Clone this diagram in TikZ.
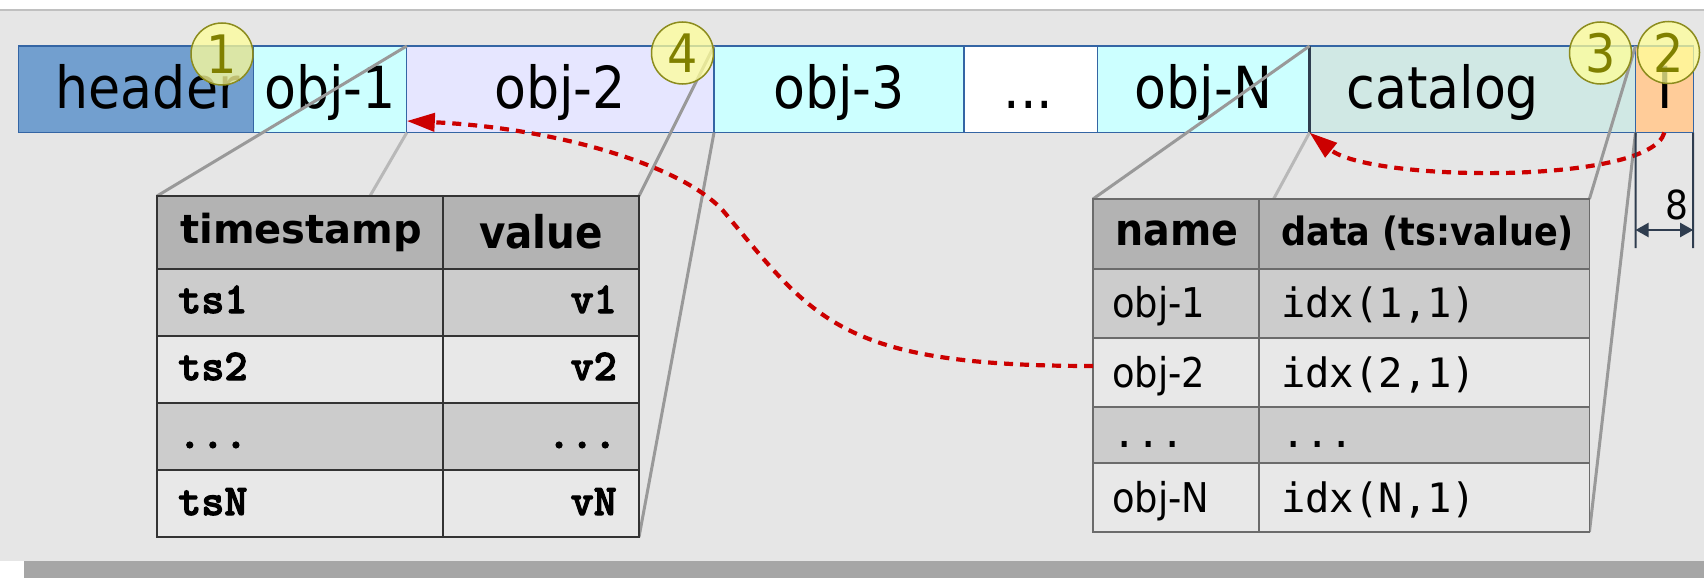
\documentclass[tikz,border=0pt]{standalone}
\usepackage{fontspec}
\usetikzlibrary{arrows.meta}
\newfontfamily\dvc{DejaVu Sans}[FakeStretch=0.9]
\newfontfamily\dvs{DejaVu Sans}
\newfontfamily\dvm{DejaVu Sans Mono}
\newfontfamily\lmo{lmmonolt10-bold}[Extension=.otf,FakeBold=2.5]
\definecolor{bgc}{HTML}{E6E6E6}
\definecolor{topc}{HTML}{C0C0C0}
\definecolor{bandc}{HTML}{A6A6A6}
\definecolor{barblue}{HTML}{3465A4}
\definecolor{hdrc}{HTML}{729FCF}
\definecolor{cyanc}{HTML}{CCFFFF}
\definecolor{lavc}{HTML}{E6E6FF}
\definecolor{catc}{HTML}{D0E8E4}
\definecolor{orc}{HTML}{FFCC99}
\definecolor{thc}{HTML}{B3B3B3}
\definecolor{oddc}{HTML}{CCCCCC}
\definecolor{evenc}{HTML}{E8E8E8}
\definecolor{projd}{HTML}{999999}
\definecolor{projl}{HTML}{B8B8B8}
\definecolor{redc}{HTML}{CC0000}
\definecolor{dimc}{HTML}{2F3D4F}
\definecolor{olivec}{HTML}{808000}
\definecolor{olived}{HTML}{8C8C1E}
\definecolor{yelc}{HTML}{FFFF99}
\definecolor{ltline}{HTML}{333333}
\definecolor{rtline}{HTML}{6B6B6B}
\begin{document}
\begin{tikzpicture}[x=1pt,y=-1pt,
  barbox/.style={draw=barblue,line width=1.2pt,inner sep=0pt,outer sep=0pt,minimum height=86.6pt,anchor=north west},
  bartext/.style={font=\dvc\fontsize{58}{60}\selectfont,anchor=base,inner sep=0pt},
  lcell/.style={draw=ltline,line width=1.5pt,inner sep=0pt,outer sep=0pt,anchor=north west},
  rcell/.style={draw=rtline,line width=1.5pt,inner sep=0pt,outer sep=0pt,anchor=north west},
  projdark/.style={draw=projd,line width=3pt},
  projlight/.style={draw=projl,line width=3pt},
  redarrow/.style={draw=redc,line width=4.2pt,dash pattern=on 9pt off 7pt,-{Triangle[length=28pt,width=18pt]}},
  dimline/.style={draw=dimc,line width=2pt},
  numdot/.style={circle,draw=olived,line width=1.5pt,fill=yelc,fill opacity=0.75,text opacity=1,text=olivec,minimum size=62pt,inner sep=0pt,font=\dvc\fontsize{53}{53}\selectfont},
  thL/.style={font=\dvs\bfseries\fontsize{40}{42}\selectfont,inner sep=0pt},
  thLv/.style={font=\dvc\bfseries\fontsize{45}{47}\selectfont,inner sep=0pt},
  tdL/.style={font=\lmo\fontsize{44}{46}\selectfont,inner sep=0pt},
  thR/.style={font=\dvc\bfseries\fontsize{44}{46}\selectfont,inner sep=0pt},
  thRd/.style={font=\dvc\bfseries\fontsize{39}{41}\selectfont,inner sep=0pt},
  tdR/.style={font=\dvc\fontsize{41}{43}\selectfont,inner sep=0pt},
  tdRm/.style={font=\dvm\fontsize{40.5}{42}\selectfont,inner sep=0pt}
]
\useasboundingbox (0,0) rectangle (1704,578);
% background
\fill[white] (0,0) rectangle (1704,578);
\fill[bgc] (0,10) rectangle (1704,561);
\draw[topc,line width=2pt] (0,10) -- (1704,10);
\fill[bandc] (24,561) rectangle (1704,578);

% the bar
\node[barbox,fill=hdrc,minimum width=234.7pt] (hdr) at (18.5,46) {};
\node[barbox,fill=cyanc,minimum width=153.6pt] (obj1) at (hdr.north east) {};
\node[barbox,fill=lavc,minimum width=307.2pt] (obj2) at (obj1.north east) {};
\node[barbox,fill=cyanc,minimum width=249.9pt] (obj3) at (obj2.north east) {};
\node[barbox,fill=white,minimum width=133.7pt] (odots) at (obj3.north east) {};
\node[barbox,fill=cyanc,minimum width=211.9pt] (objN) at (odots.north east) {};
\node[barbox,fill=catc,minimum width=326pt] (cat) at (objN.north east) {};
\node[barbox,fill=orc,minimum width=57.7pt] (ord) at (cat.north east) {};
\draw[dimc,line width=2.5pt] (cat.north west) -- (cat.south west);

\node[bartext] (thdr) at (147.7,108.5) {header};
\node[bartext] (tobj1) at (330,108.5) {obj-1};
\node[bartext] (tobj2) at (560,108.5) {obj-2};
\node[bartext] (tobj3) at (839,108.5) {obj-3};
\node[bartext] (tdots) at (1028.6,108.5) {...};
\node[bartext] (tobjN) at (1203.5,108.5) {obj-N};
\node[bartext] (tcat) at (1442.7,108.5) {catalog};
\node[bartext] (tord) at (1664.7,108.5) {I};

% left table cells
\node[lcell,minimum width=286pt,minimum height=73pt] (L00) at (157,196) {};
\node[lcell,minimum width=196pt,minimum height=73pt] (L01) at (L00.north east) {};
\node[lcell,minimum width=286pt,minimum height=67pt] (L10) at (L00.south west) {};
\node[lcell,minimum width=196pt,minimum height=67pt] (L11) at (L10.north east) {};
\node[lcell,minimum width=286pt,minimum height=67pt] (L20) at (L10.south west) {};
\node[lcell,minimum width=196pt,minimum height=67pt] (L21) at (L20.north east) {};
\node[lcell,minimum width=286pt,minimum height=67pt] (L30) at (L20.south west) {};
\node[lcell,minimum width=196pt,minimum height=67pt] (L31) at (L30.north east) {};
\node[lcell,minimum width=286pt,minimum height=67pt] (L40) at (L30.south west) {};
\node[lcell,minimum width=196pt,minimum height=67pt] (L41) at (L40.north east) {};

% right table cells
\node[rcell,minimum width=166pt,minimum height=70pt] (R00) at (1093,199) {};
\node[rcell,minimum width=330.4pt,minimum height=70pt] (R01) at (R00.north east) {};
\node[rcell,minimum width=166pt,minimum height=69pt] (R10) at (R00.south west) {};
\node[rcell,minimum width=330.4pt,minimum height=69pt] (R11) at (R10.north east) {};
\node[rcell,minimum width=166pt,minimum height=69pt] (R20) at (R10.south west) {};
\node[rcell,minimum width=330.4pt,minimum height=69pt] (R21) at (R20.north east) {};
\node[rcell,minimum width=166pt,minimum height=56pt] (R30) at (R20.south west) {};
\node[rcell,minimum width=330.4pt,minimum height=56pt] (R31) at (R30.north east) {};
\node[rcell,minimum width=166pt,minimum height=69pt] (R40) at (R30.south west) {};
\node[rcell,minimum width=330.4pt,minimum height=69pt] (R41) at (R40.north east) {};

% projection lines (over the bar, under the tables)
\coordinate (lhid) at (370,196);
\coordinate (rhid) at (1273.6,199);
\draw[projdark] (obj1.north east) -- (L00.north west);
\draw[projlight] (obj1.south east) -- (lhid);
\draw[projdark] (obj2.north east) -- (L01.north east);
\draw[projdark] (obj2.south east) -- (L41.south east);
\draw[projdark] (objN.north east) -- (R00.north west);
\draw[projlight] (objN.south east) -- (rhid);
\draw[projdark] (cat.north east) -- (R01.north east);
\draw[projdark] (cat.south east) -- (R41.south east);

% tables drawn on top of the projection lines
\foreach \n/\c in {L00/thc,L01/thc,L10/oddc,L11/oddc,L20/evenc,L21/evenc,L30/oddc,L31/oddc,L40/evenc,L41/evenc}{
  \draw[ltline,line width=1.5pt,fill=\c] (\n.north west) rectangle (\n.south east);
}
\foreach \n/\c in {R00/thc,R01/thc,R10/oddc,R11/oddc,R20/evenc,R21/evenc,R30/oddc,R31/oddc,R40/evenc,R41/evenc}{
  \draw[rtline,line width=1.5pt,fill=\c] (\n.north west) rectangle (\n.south east);
}

% left table text
\node[thL,anchor=base west] (tts) at (180,243) {timestamp};
\node[thLv,anchor=base] (tval) at (541,248) {value};
\node[tdL,anchor=base west] (ts1) at (178,313) {ts1};
\node[tdL,anchor=base east] (v1) at (617,313) {v1};
\node[tdL,anchor=base west] (ts2) at (178,380) {ts2};
\node[tdL,anchor=base east] (v2) at (617,380) {v2};
\node[tdL,anchor=base west] (tsd) at (178,448) {...};
\node[tdL,anchor=base east] (vd) at (617,448) {...};
\node[tdL,anchor=base west] (tsN) at (178,515) {tsN};
\node[tdL,anchor=base east] (vN) at (617,515) {vN};

% right table text
\node[thR,anchor=base west] (tname) at (1115,245) {name};
\node[thRd,anchor=base west] (tdata) at (1281,245) {data (ts:value)};
\node[tdR,anchor=base west] (n1) at (1112,317) {obj-1};
\node[tdRm,anchor=base west] (i1) at (1281,317) {idx(1,1)};
\node[tdR,anchor=base west] (n2) at (1112,387) {obj-2};
\node[tdRm,anchor=base west] (i2) at (1281,387) {idx(2,1)};
\node[tdRm,anchor=base west] (nd) at (1112,447) {...};
\node[tdRm,anchor=base west] (id) at (1281,447) {...};
\node[tdR,anchor=base west] (nN) at (1112,512) {obj-N};
\node[tdRm,anchor=base west] (iN) at (1281,512) {idx(N,1)};

% red dashed references
\coordinate (a1s) at (1093,366);
\coordinate (a1m) at (725,213);
\coordinate (a1e) at (406.8,121);
\draw[redarrow] (a1s) .. controls (842,366) and (814.6,320.8) .. (a1m)
  .. controls (686.6,166.8) and (558,128) .. (a1e);
\draw[redarrow] (ord.south) .. controls (1650,185) and (1370,182) .. (cat.south west);

% dimension
\coordinate (d1) at (1635.5,248);
\coordinate (d2) at (1693.2,248);
\coordinate (da) at (1635.5,230);
\coordinate (db) at (1693.2,230);
\draw[dimline] (ord.south west) -- (d1);
\draw[dimline] (ord.south east) -- (d2);
\draw[dimline,{Triangle[length=13pt,width=14pt]}-{Triangle[length=13pt,width=14pt]}] (da) -- (db);
\node[font=\dvc\fontsize{40}{40}\selectfont,anchor=base,inner sep=0pt] (eight) at (1677,219) {8};

% numbered markers
\node[numdot] (m1) at (222,54) {1};
\node[numdot] (m4) at (682.5,53) {4};
\node[numdot] (m3) at (1600.5,53) {3};
\node[numdot] (m2) at (1668.5,52.5) {2};
\end{tikzpicture}
\end{document}
